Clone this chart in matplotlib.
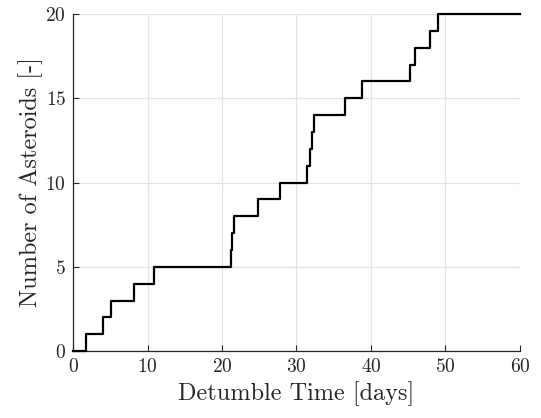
import matplotlib
matplotlib.use("Agg")
import matplotlib.pyplot as plt

# Detumble times (days) at which the cumulative count increases by one
detumble_times = [1.74, 4.07, 5.06, 8.19, 10.83, 21.2, 21.4, 21.65, 24.9, 27.8,
                  31.45, 31.77, 32.1, 32.35, 36.55, 38.8, 45.3, 45.97, 47.95, 49.0]
x_start, x_end = 0, 60
counts = list(range(0, len(detumble_times) + 1))

xticks = [0, 10, 20, 30, 40, 50, 60]
yticks = [0, 5, 10, 15, 20]

plt.rcParams['font.family'] = 'serif'
plt.rcParams['font.serif'] = ['cmr10']
plt.rcParams['mathtext.fontset'] = 'cm'
plt.rcParams['axes.formatter.use_mathtext'] = True

fig = plt.figure(figsize=(5.41, 4.18), dpi=100)
ax = fig.add_axes([0.135, 0.160, 0.826, 0.8065])

xs = [x_start] + detumble_times + [x_end]
ys = counts + [counts[-1]]
ax.step(xs, ys, where='post', color='black', linewidth=1.6, clip_on=False, zorder=3)

ax.set_xlim(0, 60)
ax.set_ylim(0, 20)
ax.set_xticks(xticks)
ax.set_yticks(yticks)
ax.grid(True, color='#e3e3e3', linewidth=0.9)
ax.set_axisbelow(True)
for s in ['top', 'right']:
    ax.spines[s].set_visible(False)
for s in ['left', 'bottom']:
    ax.spines[s].set_linewidth(0.9)
    ax.spines[s].set_color('#262626')
ax.tick_params(direction='in', length=4, width=0.8, labelsize=14, colors='#262626',
               labelcolor='#262626', pad=5)
ax.set_xlabel('Detumble Time [days]', fontsize=17.5, color='#262626', labelpad=4)
ax.set_ylabel('Number of Asteroids [-]', fontsize=17.5, color='#262626', labelpad=2)

fig.savefig('out.png', dpi=100)
